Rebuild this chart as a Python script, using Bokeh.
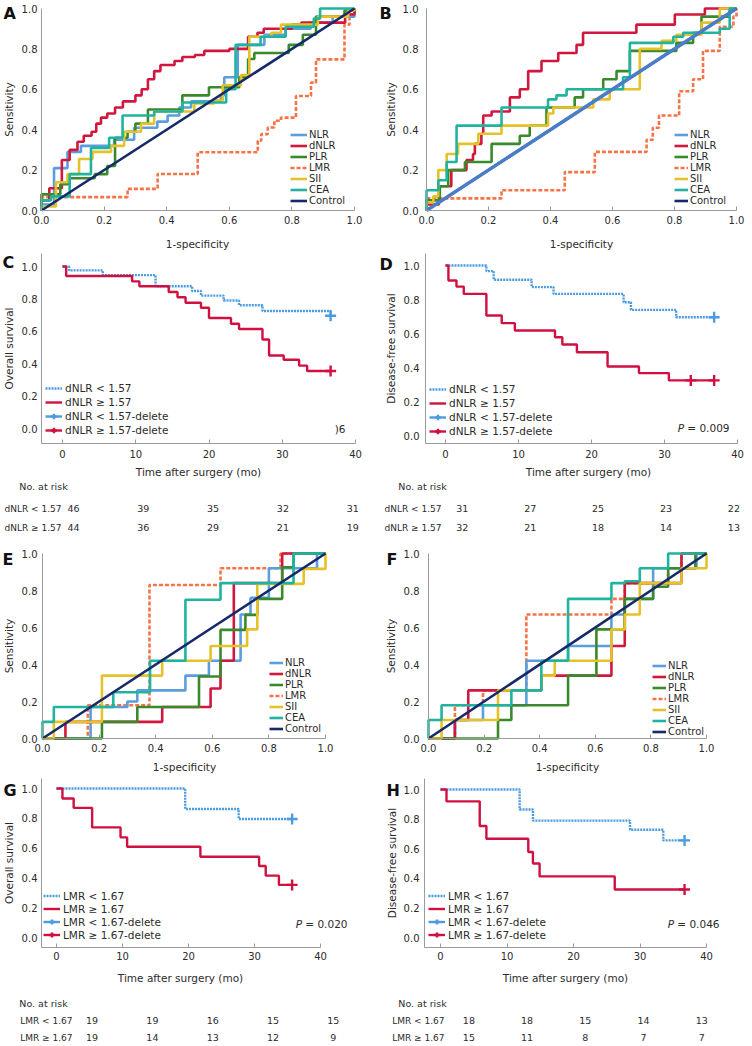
import math
from bokeh.plotting import figure
from bokeh.layouts import column, row
from bokeh.models import Range1d, FixedTicker, PrintfTickFormatter, Legend, LegendItem, Label
from bokeh.core.properties import value
from bokeh.embed import file_html
from bokeh.resources import INLINE

NAN = float("nan")

# ---------------- values ----------------
ROC_TICKS = [0.0, 0.2, 0.4, 0.6, 0.8, 1.0]
SURV_TICKS = [0.0, 0.2, 0.4, 0.6, 0.8, 1.0]
TIME_TICKS = [0, 10, 20, 30, 40]
MARKERS = ["NLR", "dNLR", "PLR", "LMR", "SII", "CEA", "Control"]
CONTROL_FPR = [0.0, 1.0]
CONTROL_TPR = [0.0, 1.0]

# Panel A (ROC)
A_NLR_fpr = [0, 0, 0.04, 0.083, 0.126, 0.232, 0.296, 0.37, 0.403, 0.44, 0.478, 0.573, 0.584, 0.627, 0.712, 0.78, 0.86, 0.93, 1.0]
A_NLR_tpr = [0, 0.03, 0.21, 0.29, 0.32, 0.35, 0.41, 0.44, 0.47, 0.51, 0.54, 0.57, 0.66, 0.82, 0.87, 0.9, 0.93, 0.96, 1.0]
A_dNLR_fpr = [0, 0, 0.025, 0.065, 0.09, 0.115, 0.135, 0.16, 0.175, 0.19, 0.21, 0.235, 0.26, 0.3, 0.32, 0.34, 0.36, 0.38, 0.425, 0.45, 0.49, 0.52, 0.6, 0.66, 0.69, 0.71, 0.8, 0.83, 0.97, 1.0]
A_dNLR_tpr = [0, 0.05, 0.11, 0.25, 0.30, 0.34, 0.37, 0.39, 0.43, 0.46, 0.48, 0.51, 0.54, 0.57, 0.60, 0.65, 0.69, 0.72, 0.74, 0.76, 0.77, 0.79, 0.80, 0.86, 0.88, 0.90, 0.92, 0.93, 0.97, 1.0]
A_PLR_fpr = [0, 0, 0.06, 0.09, 0.17, 0.21, 0.235, 0.275, 0.3, 0.34, 0.45, 0.535, 0.632, 0.66, 0.68, 0.79, 0.835, 0.877, 0.968, 1.0]
A_PLR_tpr = [0, 0.08, 0.13, 0.16, 0.18, 0.22, 0.36, 0.39, 0.43, 0.5, 0.57, 0.61, 0.66, 0.75, 0.78, 0.82, 0.87, 0.96, 0.99, 1.0]
A_LMR_fpr = [0, 0, 0.275, 0.371, 0.499, 0.691, 0.702, 0.723, 0.744, 0.765, 0.813, 0.861, 0.877, 0.968, 0.984, 1.0]
A_LMR_tpr = [0, 0.066, 0.107, 0.181, 0.288, 0.345, 0.378, 0.411, 0.444, 0.46, 0.567, 0.633, 0.748, 0.92, 0.97, 1.0]
A_SII_fpr = [0, 0, 0.046, 0.083, 0.12, 0.163, 0.222, 0.264, 0.318, 0.36, 0.488, 0.552, 0.579, 0.637, 0.664, 0.735, 0.765, 0.883, 0.98, 1.0]
A_SII_tpr = [0, 0.02, 0.14, 0.18, 0.255, 0.29, 0.32, 0.39, 0.43, 0.49, 0.53, 0.545, 0.62, 0.67, 0.86, 0.88, 0.92, 0.96, 0.99, 1.0]
A_CEA_fpr = [0, 0, 0.03, 0.09, 0.158, 0.216, 0.259, 0.36, 0.45, 0.59, 0.62, 0.7, 0.78, 0.87, 0.89, 1.0]
A_CEA_tpr = [0, 0.05, 0.07, 0.18, 0.31, 0.36, 0.47, 0.49, 0.535, 0.6, 0.82, 0.86, 0.91, 0.95, 1.0, 1.0]

# Panel B (ROC) - NLR lies on the diagonal
B_NLR_fpr = [0.0, 1.0]
B_NLR_tpr = [0.0, 1.0]
B_dNLR_fpr = [0, 0, 0.04, 0.08, 0.129, 0.15, 0.156, 0.177, 0.183, 0.21, 0.269, 0.301, 0.328, 0.371, 0.425, 0.484, 0.505, 0.677, 0.801, 0.898, 1.0]
B_dNLR_tpr = [0, 0.03, 0.12, 0.2, 0.25, 0.28, 0.33, 0.38, 0.47, 0.49, 0.56, 0.6, 0.69, 0.74, 0.78, 0.82, 0.88, 0.92, 0.97, 1.0, 1.0]
B_PLR_fpr = [0, 0, 0.043, 0.07, 0.124, 0.21, 0.301, 0.333, 0.387, 0.478, 0.505, 0.57, 0.613, 0.656, 0.806, 0.86, 0.887, 0.978, 1.0]
B_PLR_tpr = [0, 0.05, 0.12, 0.2, 0.24, 0.33, 0.37, 0.42, 0.51, 0.56, 0.6, 0.65, 0.69, 0.79, 0.83, 0.88, 0.96, 1.0, 1.0]
B_LMR_fpr = [0, 0, 0.242, 0.446, 0.543, 0.71, 0.73, 0.75, 0.815, 0.86, 0.892, 0.946, 0.99, 1.0]
B_LMR_tpr = [0, 0.06, 0.1, 0.19, 0.29, 0.35, 0.41, 0.47, 0.59, 0.65, 0.79, 0.91, 0.96, 1.0]
B_SII_fpr = [0, 0, 0.022, 0.038, 0.065, 0.102, 0.167, 0.242, 0.392, 0.409, 0.538, 0.591, 0.688, 0.758, 0.806, 0.887, 0.946, 1.0]
B_SII_tpr = [0, 0.04, 0.07, 0.2, 0.28, 0.33, 0.38, 0.42, 0.48, 0.51, 0.55, 0.6, 0.8, 0.84, 0.87, 0.93, 1.0, 1.0]
B_CEA_fpr = [0, 0, 0.038, 0.065, 0.097, 0.242, 0.392, 0.419, 0.452, 0.634, 0.656, 0.796, 0.828, 0.946, 0.978, 1.0]
B_CEA_tpr = [0, 0.1, 0.15, 0.24, 0.42, 0.51, 0.55, 0.57, 0.6, 0.66, 0.83, 0.86, 0.88, 0.9, 1.0, 1.0]

# Panel E (ROC)
E_NLR_fpr = [0, 0.17, 0.3, 0.335, 0.505, 0.588, 0.7, 0.735, 0.8, 0.97, 1.0]
E_NLR_tpr = [0, 0.17, 0.2, 0.26, 0.34, 0.42, 0.67, 0.76, 0.92, 1.0, 1.0]
E_dNLR_fpr = [0, 0.081, 0.423, 0.594, 0.629, 0.676, 0.847, 1.0]
E_dNLR_tpr = [0, 0.09, 0.17, 0.27, 0.42, 0.84, 1.0, 1.0]
E_PLR_fpr = [0, 0.21, 0.335, 0.553, 0.629, 0.717, 0.759, 0.847, 0.887, 1.0]
E_PLR_tpr = [0, 0.09, 0.17, 0.335, 0.587, 0.668, 0.755, 0.926, 1.0, 1.0]
E_LMR_fpr = [0, 0.16, 0.378, 0.629, 0.841, 1.0]
E_LMR_tpr = [0, 0.18, 0.83, 0.92, 1.0, 1.0]
E_SII_fpr = [0, 0.04, 0.21, 0.423, 0.594, 0.723, 0.759, 0.923, 1.0]
E_SII_tpr = [0, 0.09, 0.34, 0.42, 0.5, 0.59, 0.836, 0.917, 1.0]
E_CEA_fpr = [0, 0, 0.04, 0.25, 0.38, 0.505, 0.629, 0.887, 1.0]
E_CEA_tpr = [0, 0.09, 0.17, 0.25, 0.42, 0.75, 0.84, 1.0, 1.0]

# Panel F (ROC)
F_NLR_fpr = [0, 0.095, 0.196, 0.352, 0.502, 0.658, 0.706, 0.808, 0.964, 1.0]
F_NLR_tpr = [0, 0.1, 0.18, 0.42, 0.5, 0.67, 0.755, 0.92, 1.0, 1.0]
F_dNLR_fpr = [0, 0.095, 0.143, 0.406, 0.658, 0.706, 0.91, 1.0]
F_dNLR_tpr = [0, 0.1, 0.26, 0.34, 0.5, 0.84, 1.0, 1.0]
F_PLR_fpr = [0, 0.25, 0.298, 0.502, 0.604, 0.706, 0.808, 0.862, 0.96, 1.0]
F_PLR_tpr = [0, 0.1, 0.18, 0.34, 0.59, 0.755, 0.82, 0.92, 1.0, 1.0]
F_LMR_fpr = [0, 0.095, 0.196, 0.352, 0.658, 0.706, 0.862, 0.91, 1.0]
F_LMR_tpr = [0, 0.18, 0.26, 0.67, 0.755, 0.84, 0.92, 1.0, 1.0]
F_SII_fpr = [0, 0.047, 0.25, 0.406, 0.454, 0.658, 0.706, 0.76, 0.91, 1.0]
F_SII_tpr = [0, 0.1, 0.26, 0.34, 0.42, 0.59, 0.67, 0.84, 0.92, 1.0]
F_CEA_fpr = [0, 0, 0.047, 0.298, 0.406, 0.502, 0.658, 0.706, 0.76, 0.862, 1.0]
F_CEA_tpr = [0, 0.1, 0.18, 0.26, 0.42, 0.755, 0.84, 0.85, 0.92, 1.0, 1.0]

# Panel C (Kaplan-Meier, overall survival by dNLR)
C_groups = ["dNLR < 1.57", "dNLR \u2265 1.57"]
C_lo_time = [0, 0.9, 5.5, 12.7, 17.7, 18.9, 22.0, 24.1, 27.3, 36.6]
C_lo_surv = [1.0, 0.976, 0.947, 0.878, 0.849, 0.820, 0.790, 0.761, 0.725, 0.696]
C_lo_censor = [36.6]
C_hi_time = [0, 0.5, 9.5, 10.5, 14.5, 15.7, 16.8, 18.9, 20.0, 23.0, 24.1, 27.3, 28.2, 30.2, 32.3, 33.4]
C_hi_surv = [1.0, 0.941, 0.908, 0.878, 0.843, 0.810, 0.776, 0.745, 0.682, 0.647, 0.614, 0.549, 0.451, 0.424, 0.388, 0.355]
C_hi_censor = [36.6]
C_risk_lo = [46, 39, 35, 32, 31]
C_risk_hi = [44, 36, 29, 21, 19]
C_ptext = ")6"

# Panel D (Kaplan-Meier, disease-free survival by dNLR)
D_groups = ["dNLR < 1.57", "dNLR \u2265 1.57"]
D_lo_time = [0, 5.6, 6.6, 11.8, 14.8, 24.4, 25.4, 31.6]
D_lo_surv = [1.0, 0.967, 0.916, 0.873, 0.833, 0.784, 0.739, 0.696]
D_lo_censor = [36.8]
D_hi_time = [0, 0.4, 1.5, 2.5, 5.6, 7.7, 9.5, 15.0, 16.0, 18.0, 22.2, 26.5, 30.6]
D_hi_surv = [1.0, 0.912, 0.876, 0.833, 0.706, 0.661, 0.618, 0.578, 0.535, 0.490, 0.406, 0.367, 0.324]
D_hi_censor = [33.6, 36.8]
D_risk_lo = [31, 27, 25, 23, 22]
D_risk_hi = [32, 21, 18, 14, 13]
D_pvalue = "0.009"

# Panel G (Kaplan-Meier, overall survival by LMR)
G_groups = ["LMR < 1.67", "LMR \u2265 1.67"]
G_lo_time = [0, 19.5, 27.6]
G_lo_surv = [1.0, 0.862, 0.795]
G_lo_censor = [35.7]
G_hi_time = [0, 0.9, 2.6, 5.4, 9.7, 10.7, 21.8, 30.7, 31.7, 33.7]
G_hi_surv = [1.0, 0.933, 0.870, 0.739, 0.672, 0.609, 0.542, 0.480, 0.415, 0.353]
G_hi_censor = [35.7]
G_risk_lo = [19, 19, 16, 15, 15]
G_risk_hi = [19, 14, 13, 12, 9]
G_pvalue = "0.020"

# Panel H (Kaplan-Meier, disease-free survival by LMR)
H_groups = ["LMR < 1.67", "LMR \u2265 1.67"]
H_lo_time = [0, 11.9, 13.9, 28.5, 33.5]
H_lo_surv = [1.0, 0.865, 0.790, 0.728, 0.656]
H_lo_censor = [36.7]
H_hi_time = [0, 0.9, 5.9, 6.9, 13.2, 13.9, 14.9, 26.2]
H_hi_surv = [1.0, 0.920, 0.753, 0.667, 0.578, 0.500, 0.413, 0.324]
H_hi_censor = [36.7]
H_risk_lo = [18, 18, 15, 14, 13]
H_risk_hi = [15, 11, 8, 7, 7]
H_pvalue = "0.046"

# ---------------- style ----------------
FONT = "DejaVu Sans"
TEXT = "#2b2b2b"
AXIS = "#9a9a9a"
ROC_COLORS = {"NLR": "#5A9EDD", "dNLR": "#D2173F", "PLR": "#3A8A2C", "LMR": "#F47448",
              "SII": "#E5C22A", "CEA": "#20B3A0", "Control": "#15296B"}
DIAG_NLR = "#4A7DC8"
KM_LO = "#4C9BE0"
KM_HI = "#CF1040"
W = 376


class Geo:
    """Pixel layout of one panel: maps figure pixels (from top-left) to data units."""

    def __init__(self, h, xv0, xp0, xv1, xp1, yv0, yp0, yv1, yp1):
        self.h = h
        self.sx = (xp1 - xp0) / (xv1 - xv0)
        self.sy = (yp0 - yp1) / (yv1 - yv0)
        self.xv0, self.xp0, self.yv0, self.yp0 = xv0, xp0, yv0, yp0

    def x(self, px):
        return self.xv0 + (px - self.xp0) / self.sx

    def y(self, py):
        return self.yv0 + (self.yp0 - py) / self.sy

    def xr(self):
        return (self.x(0), self.x(W))

    def yr(self):
        return (self.y(self.h), self.y(0))


def make_fig(g):
    p = figure(width=W, height=g.h, x_range=Range1d(*g.xr()), y_range=Range1d(*g.yr()),
               output_backend="svg", toolbar_location=None, min_border=0)
    p.outline_line_color = None
    p.xgrid.visible = False
    p.ygrid.visible = False
    p.background_fill_color = "white"
    p.border_fill_color = "white"
    return p


def add_text(p, x, y, text, size="10.5px", align="center", baseline="middle", angle=0.0,
             style="normal", color=TEXT):
    p.add_layout(Label(x=x, y=y, text=text, text_font=FONT, text_font_size=size,
                       text_align=align, text_baseline=baseline, angle=angle,
                       text_font_style=style, text_color=color))


def style_axes(p, g, xloc, yloc, xbounds, ybounds, xticks, xfmt, yticks, xstd, ystd,
               xlabel, xlab_px, ylabel, ylab_px, letter, letter_px):
    p.xaxis.ticker = FixedTicker(ticks=xticks)
    p.yaxis.ticker = FixedTicker(ticks=yticks)
    p.xaxis.formatter = PrintfTickFormatter(format=xfmt)
    p.yaxis.formatter = PrintfTickFormatter(format="%.1f")
    p.xaxis.fixed_location = yloc
    p.yaxis.fixed_location = xloc
    p.xaxis.bounds = xbounds
    p.yaxis.bounds = ybounds
    for ax in (p.xaxis[0], p.yaxis[0]):
        ax.axis_line_color = AXIS
        ax.axis_line_width = 1
        ax.major_tick_line_color = AXIS
        ax.minor_tick_line_color = None
        ax.major_label_text_font = FONT
        ax.major_label_text_font_size = "10px"
        ax.major_label_text_color = TEXT
    p.xaxis.major_tick_in = 4
    p.xaxis.major_tick_out = 0
    p.yaxis.major_tick_in = 0
    p.yaxis.major_tick_out = 0
    p.xaxis.major_label_standoff = xstd
    p.yaxis.major_label_standoff = ystd
    # axis titles and panel letter
    add_text(p, g.x(xlab_px[0]), g.y(xlab_px[1]), xlabel)
    add_text(p, g.x(ylab_px[0]), g.y(ylab_px[1]), ylabel, angle=math.pi / 2)
    add_text(p, g.x(letter_px[0]), g.y(letter_px[1]), letter, size="16px", align="left",
             baseline="top", style="bold", color="#111111")


def roc_panel(curves, nlr_diag, g, letter, letter_px, xlab_px, ylab_px, leg_px, gw, ystd):
    p = make_fig(g)
    style_axes(p, g, 0.0, 0.0, (0.0, 1.0), (0.0, 1.0), ROC_TICKS, "%.1f", ROC_TICKS, 5, ystd,
               "1-specificity", xlab_px, "Sensitivity", ylab_px, letter, letter_px)
    rends = {}
    for name in ["LMR", "NLR", "dNLR", "PLR", "SII", "CEA"]:
        if name == "NLR" and nlr_diag:
            continue
        fx, ty = curves[name]
        rends[name] = p.step(fx, ty, mode="after", line_color=ROC_COLORS[name], line_width=2.6,
                             line_dash="4 2" if name == "LMR" else "solid")
    rends["Control"] = p.line(CONTROL_FPR, CONTROL_TPR, line_color=ROC_COLORS["Control"], line_width=2.6)
    if nlr_diag:
        fx, ty = curves["NLR"]
        p.line(fx, ty, line_color=DIAG_NLR, line_width=3.4)
        # legend swatch keeps the NLR colour
        rends["NLR"] = p.line([NAN], [NAN], line_color=ROC_COLORS["NLR"], line_width=2.6)
    items = [LegendItem(label=m, renderers=[rends[m]]) for m in MARKERS]
    leg = Legend(items=items, location=(leg_px[0], g.h - leg_px[1]), orientation="vertical",
                 background_fill_alpha=0, border_line_color=None, padding=0, margin=0,
                 spacing=0, glyph_width=gw, glyph_height=11, label_height=11, label_standoff=2,
                 label_text_font=FONT, label_text_font_size="10px", label_text_color=TEXT)
    p.add_layout(leg)
    return p


def surv_at(times, surv, t):
    s = surv[0]
    for ti, si in zip(times, surv):
        if ti <= t:
            s = si
    return s


def km_panel(groups, lo, hi, g, axis_px, ylabel, letter, letter_px, xlab_px, ylab_px, leg_px, leg_h,
             xstd, ystd, ptext, p_px, italic_p=True):
    ax_left, ax_bottom, ax_top, ax_right = axis_px
    p = make_fig(g)
    style_axes(p, g, g.x(ax_left), g.y(ax_bottom), (g.x(ax_left), g.x(ax_right)),
               (g.y(ax_bottom), g.y(ax_top)), TIME_TICKS, "%d", SURV_TICKS, xstd, ystd,
               "Time after surgery (mo)", xlab_px, ylabel, ylab_px, letter, letter_px)
    rends = []
    for (times, surv, cens), color, dash in ((lo, KM_LO, "2 1"), (hi, KM_HI, "solid")):
        end = max(cens)
        xs = list(times) + [end]
        ys = list(surv) + [surv[-1]]
        r = p.step(xs, ys, mode="after", line_color=color, line_width=2.4, line_dash=dash)
        cy = [surv_at(times, surv, t) for t in cens]
        c = p.scatter(cens, cy, marker="cross", size=11, line_color=color, line_width=2.4)
        # legend-only glyphs (nothing visible in the plot area)
        d = p.line([NAN], [NAN], line_color=color, line_width=2.4)
        k = p.scatter([NAN], [NAN], marker="cross", size=30, line_color=color, line_width=2.4)
        rends.append((r, c, d, k))
    items = [LegendItem(label=groups[0], renderers=[rends[0][0]]),
             LegendItem(label=groups[1], renderers=[rends[1][0]]),
             LegendItem(label=groups[0] + "-delete", renderers=[rends[0][2], rends[0][3]]),
             LegendItem(label=groups[1] + "-delete", renderers=[rends[1][2], rends[1][3]])]
    leg = Legend(items=items, location=(leg_px[0], g.h - leg_px[1]), orientation="vertical",
                 background_fill_alpha=0, border_line_color=None, padding=0, margin=0,
                 spacing=0, glyph_width=17, glyph_height=leg_h, label_height=leg_h, label_standoff=3,
                 label_text_font=FONT, label_text_font_size="10.5px", label_text_color=TEXT)
    p.add_layout(leg)
    px_, py_ = p_px
    if italic_p:
        add_text(p, g.x(px_), g.y(py_), "= " + ptext, align="right")
        add_text(p, g.x(px_ - 45.5), g.y(py_), "P", align="right", style="italic")
    else:
        add_text(p, g.x(px_), g.y(py_), ptext, align="right")
    return p


def risk_table(h, first_px, px_per_month, head_px, lab_px, ys, groups, risk_lo, risk_hi):
    start = -first_px / px_per_month
    end = (W - first_px) / px_per_month
    p = figure(width=W, height=h, x_range=Range1d(start, end), y_range=Range1d(h, 0),
               x_axis_type=None, y_axis_type=None, output_backend="svg", toolbar_location=None,
               min_border=0)
    p.outline_line_color = None
    p.xgrid.visible = False
    p.ygrid.visible = False

    def to_t(px):
        return (px - first_px) / px_per_month

    kw = dict(text_font=value(FONT), text_color=TEXT, text_baseline="middle")
    p.text(x=[to_t(head_px)], y=[ys[0]], text=["No. at risk"], text_align="center",
           text_font_size=value("9.5px"), **kw)
    p.text(x=[to_t(lab_px)] * 2, y=[ys[1], ys[2]], text=groups, text_align="right",
           text_font_size=value("9px"), **kw)
    for counts, yy in ((risk_lo, ys[1]), (risk_hi, ys[2])):
        p.text(x=TIME_TICKS, y=[yy] * len(counts), text=[str(c) for c in counts],
               text_align="center", text_font_size=value("9.5px"), **kw)
    return p


# ---------------- panels ----------------
roc_A = {"NLR": (A_NLR_fpr, A_NLR_tpr), "dNLR": (A_dNLR_fpr, A_dNLR_tpr), "PLR": (A_PLR_fpr, A_PLR_tpr),
         "LMR": (A_LMR_fpr, A_LMR_tpr), "SII": (A_SII_fpr, A_SII_tpr), "CEA": (A_CEA_fpr, A_CEA_tpr)}
roc_B = {"NLR": (B_NLR_fpr, B_NLR_tpr), "dNLR": (B_dNLR_fpr, B_dNLR_tpr), "PLR": (B_PLR_fpr, B_PLR_tpr),
         "LMR": (B_LMR_fpr, B_LMR_tpr), "SII": (B_SII_fpr, B_SII_tpr), "CEA": (B_CEA_fpr, B_CEA_tpr)}
roc_E = {"NLR": (E_NLR_fpr, E_NLR_tpr), "dNLR": (E_dNLR_fpr, E_dNLR_tpr), "PLR": (E_PLR_fpr, E_PLR_tpr),
         "LMR": (E_LMR_fpr, E_LMR_tpr), "SII": (E_SII_fpr, E_SII_tpr), "CEA": (E_CEA_fpr, E_CEA_tpr)}
roc_F = {"NLR": (F_NLR_fpr, F_NLR_tpr), "dNLR": (F_dNLR_fpr, F_dNLR_tpr), "PLR": (F_PLR_fpr, F_PLR_tpr),
         "LMR": (F_LMR_fpr, F_LMR_tpr), "SII": (F_SII_fpr, F_SII_tpr), "CEA": (F_CEA_fpr, F_CEA_tpr)}

H1, H2, H3, H4, H5, H6 = 250, 228, 66, 231, 215, 56

gA = Geo(H1, 0, 41, 1, 354, 0, 210, 1, 8)
gB = Geo(H1, 0, 50, 1, 360, 0, 210, 1, 8)
pA = roc_panel(roc_A, False, gA, "A", (3, 3), (197, 243), (8, 109), (290, 206), 17, 4)
pB = roc_panel(roc_B, True, gB, "B", (3, 3), (205, 243), (14, 109), (298, 206), 14, 8)

gC = Geo(H2, 0, 62, 40, 355, 0, 178, 1, 16)
gD = Geo(H2, 0, 69, 40, 361, 0, 185, 1, 15)
pC = km_panel(C_groups, (C_lo_time, C_lo_surv, C_lo_censor), (C_hi_time, C_hi_surv, C_hi_censor),
              gC, (41, 193, 3, 355), "Overall survival", "C", (2, 2), (198, 221), (8.5, 98),
              (45, 187), 14, 6, 4, C_ptext, (345, 178), italic_p=False)
pD = km_panel(D_groups, (D_lo_time, D_lo_surv, D_lo_censor), (D_hi_time, D_hi_surv, D_hi_censor),
              gD, (49, 193, 3, 361), "Disease-free survival", "D", (3, 4), (212, 221), (14, 98),
              (53, 188), 14, 6, 6, D_pvalue, (353, 177))

tC = risk_table(H3, 73.0, 6.98, 43, 61, (8, 30, 49), C_groups, C_risk_lo, C_risk_hi)
tD = risk_table(H3, 85.8, 6.79, 46, 65, (8, 30, 49), D_groups, D_risk_lo, D_risk_hi)

gE = Geo(H4, 0, 42, 1, 325, 0, 194, 1, 9)
gF = Geo(H4, 0, 52, 1, 330, 0, 194, 1, 9)
pE = roc_panel(roc_E, False, gE, "E", (2, 5), (184, 222), (8, 101.5), (269, 190), 14, 5)
pF = roc_panel(roc_F, False, gF, "F", (10, 5), (191, 222), (14, 101.5), (276, 193), 14, 9)

gG = Geo(H5, 0, 56, 40, 320, 0, 162, 1, 13)
gH = Geo(H5, 0, 64, 40, 330, 0, 162, 1, 14)
pG = km_panel(G_groups, (G_lo_time, G_lo_surv, G_lo_censor), (G_hi_time, G_hi_surv, G_hi_censor),
              gG, (41, 172, 3, 320), "Overall survival", "G", (3, 5), (180, 202), (8.5, 87.5),
              (43, 166), 13, 4, 4, G_pvalue, (347, 148))
pH = km_panel(H_groups, (H_lo_time, H_lo_surv, H_lo_censor), (H_hi_time, H_hi_surv, H_hi_censor),
              gH, (48, 172, 3, 330), "Disease-free survival", "H", (10, 5), (189, 202), (15, 87.5),
              (52, 166), 13, 4, 5, H_pvalue, (343, 148))

tG = risk_table(H6, 91.6, 6.03, 43, 72, (13, 30, 47), G_groups, G_risk_lo, G_risk_hi)
tH = risk_table(H6, 92.4, 5.82, 46, 68, (13, 30, 47), H_groups, H_risk_lo, H_risk_hi)

layout = column(row(pA, pB), row(pC, pD), row(tC, tD), row(pE, pF), row(pG, pH), row(tG, tH))

open("out.html", "w").write(file_html(layout, INLINE))
